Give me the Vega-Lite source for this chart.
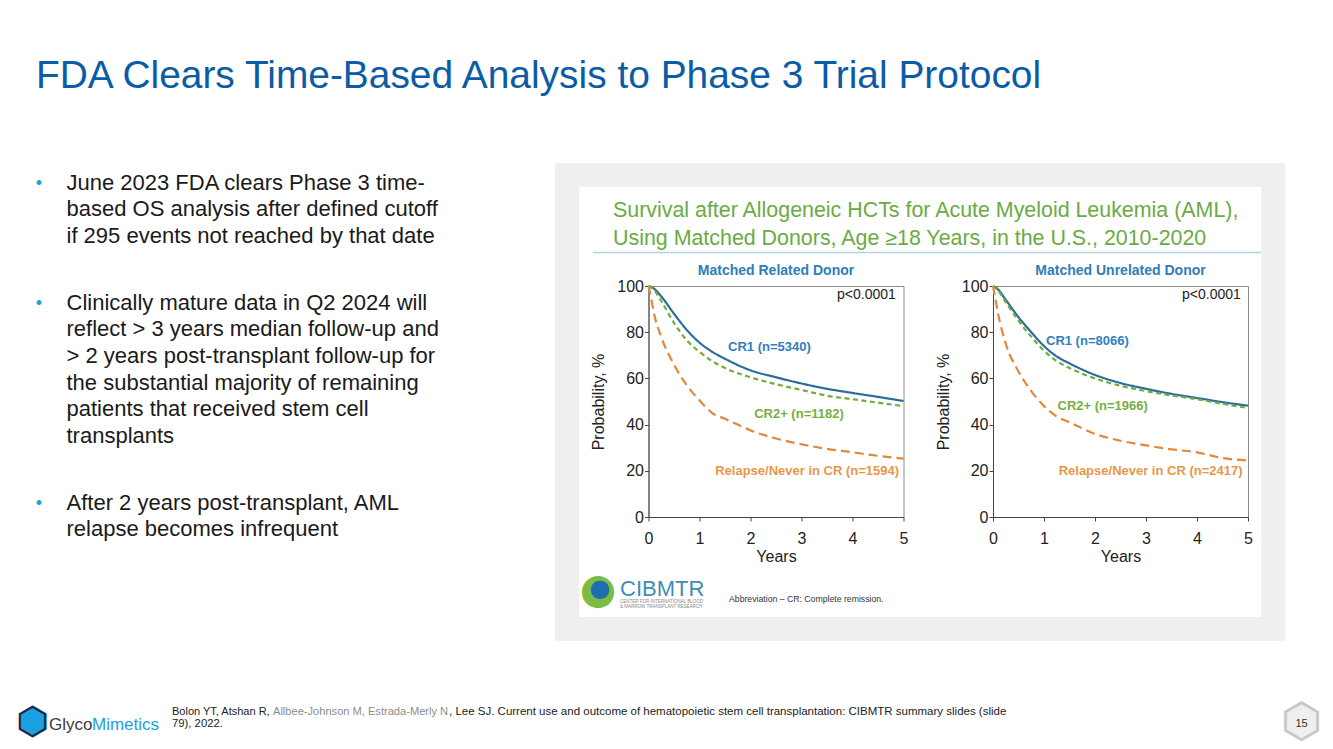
{
  "$schema": "https://vega.github.io/schema/vega-lite/v6.json",
  "background": "#ffffff",
  "padding": {"left": 0, "top": 57, "right": 5, "bottom": 5},
  "config": {
    "font": "Liberation Sans",
    "view": {"stroke": null},
    "axis": {"labelFont": "Liberation Sans", "titleFont": "Liberation Sans", "labelFontSize": 16, "titleFontSize": 16, "titleFontWeight": "normal", "labelColor": "#222222", "titleColor": "#222222", "domainColor": "#444444", "tickColor": "#444444", "tickSize": 4, "grid": false, "labelFlush": false, "labelOverlap": false}
  },
  "datasets": {
    "bullets": [
      {"line": 0, "first": true, "text": "June 2023 FDA clears Phase 3 time-"},
      {"line": 1, "first": false, "text": "based OS analysis after defined cutoff"},
      {"line": 2, "first": false, "text": "if 295 events not reached by that date"},
      {"line": 4.5, "first": true, "text": "Clinically mature data in Q2 2024 will"},
      {"line": 5.5, "first": false, "text": "reflect > 3 years median follow-up and"},
      {"line": 6.5, "first": false, "text": "> 2 years post-transplant follow-up for"},
      {"line": 7.5, "first": false, "text": "the substantial majority of remaining"},
      {"line": 8.5, "first": false, "text": "patients that received stem cell"},
      {"line": 9.5, "first": false, "text": "transplants"},
      {"line": 12, "first": true, "text": "After 2 years post-transplant, AML"},
      {"line": 13, "first": false, "text": "relapse becomes infrequent"}
    ],
    "km": [
      {"donor": "related", "group": "CR1", "t": 0, "p": 100},
      {"donor": "related", "group": "CR1", "t": 0.1, "p": 99},
      {"donor": "related", "group": "CR1", "t": 0.25, "p": 95.5},
      {"donor": "related", "group": "CR1", "t": 0.5, "p": 88},
      {"donor": "related", "group": "CR1", "t": 0.75, "p": 81},
      {"donor": "related", "group": "CR1", "t": 1, "p": 75.5},
      {"donor": "related", "group": "CR1", "t": 1.25, "p": 71.5},
      {"donor": "related", "group": "CR1", "t": 1.5, "p": 68.5},
      {"donor": "related", "group": "CR1", "t": 2, "p": 63.5},
      {"donor": "related", "group": "CR1", "t": 2.5, "p": 60.5},
      {"donor": "related", "group": "CR1", "t": 3, "p": 57.8},
      {"donor": "related", "group": "CR1", "t": 3.5, "p": 55.5},
      {"donor": "related", "group": "CR1", "t": 4, "p": 53.7},
      {"donor": "related", "group": "CR1", "t": 4.5, "p": 52},
      {"donor": "related", "group": "CR1", "t": 5, "p": 50.2},
      {"donor": "related", "group": "CR2+", "t": 0, "p": 100},
      {"donor": "related", "group": "CR2+", "t": 0.1, "p": 98.5},
      {"donor": "related", "group": "CR2+", "t": 0.25, "p": 93.5},
      {"donor": "related", "group": "CR2+", "t": 0.5, "p": 84},
      {"donor": "related", "group": "CR2+", "t": 0.75, "p": 76.5},
      {"donor": "related", "group": "CR2+", "t": 1, "p": 71.5},
      {"donor": "related", "group": "CR2+", "t": 1.25, "p": 67.5},
      {"donor": "related", "group": "CR2+", "t": 1.5, "p": 64.5},
      {"donor": "related", "group": "CR2+", "t": 2, "p": 60.5},
      {"donor": "related", "group": "CR2+", "t": 2.5, "p": 57.5},
      {"donor": "related", "group": "CR2+", "t": 3, "p": 55},
      {"donor": "related", "group": "CR2+", "t": 3.5, "p": 52.5},
      {"donor": "related", "group": "CR2+", "t": 4, "p": 51},
      {"donor": "related", "group": "CR2+", "t": 4.5, "p": 49.5},
      {"donor": "related", "group": "CR2+", "t": 5, "p": 48},
      {"donor": "related", "group": "Relapse/Never in CR", "t": 0, "p": 100},
      {"donor": "related", "group": "Relapse/Never in CR", "t": 0.05, "p": 95},
      {"donor": "related", "group": "Relapse/Never in CR", "t": 0.1, "p": 89},
      {"donor": "related", "group": "Relapse/Never in CR", "t": 0.25, "p": 78},
      {"donor": "related", "group": "Relapse/Never in CR", "t": 0.5, "p": 66},
      {"donor": "related", "group": "Relapse/Never in CR", "t": 0.75, "p": 57},
      {"donor": "related", "group": "Relapse/Never in CR", "t": 1, "p": 50.5},
      {"donor": "related", "group": "Relapse/Never in CR", "t": 1.25, "p": 45},
      {"donor": "related", "group": "Relapse/Never in CR", "t": 1.5, "p": 42.5},
      {"donor": "related", "group": "Relapse/Never in CR", "t": 1.75, "p": 40},
      {"donor": "related", "group": "Relapse/Never in CR", "t": 2, "p": 37.5},
      {"donor": "related", "group": "Relapse/Never in CR", "t": 2.5, "p": 34},
      {"donor": "related", "group": "Relapse/Never in CR", "t": 3, "p": 31.5},
      {"donor": "related", "group": "Relapse/Never in CR", "t": 3.5, "p": 29.5},
      {"donor": "related", "group": "Relapse/Never in CR", "t": 4, "p": 28},
      {"donor": "related", "group": "Relapse/Never in CR", "t": 4.5, "p": 26.5},
      {"donor": "related", "group": "Relapse/Never in CR", "t": 5, "p": 25.3},
      {"donor": "unrelated", "group": "CR1", "t": 0, "p": 100},
      {"donor": "unrelated", "group": "CR1", "t": 0.1, "p": 98.5},
      {"donor": "unrelated", "group": "CR1", "t": 0.25, "p": 94},
      {"donor": "unrelated", "group": "CR1", "t": 0.5, "p": 86.5},
      {"donor": "unrelated", "group": "CR1", "t": 0.75, "p": 80},
      {"donor": "unrelated", "group": "CR1", "t": 1, "p": 74},
      {"donor": "unrelated", "group": "CR1", "t": 1.25, "p": 69.5},
      {"donor": "unrelated", "group": "CR1", "t": 1.5, "p": 66.5},
      {"donor": "unrelated", "group": "CR1", "t": 2, "p": 61.5},
      {"donor": "unrelated", "group": "CR1", "t": 2.5, "p": 58},
      {"donor": "unrelated", "group": "CR1", "t": 3, "p": 55.5},
      {"donor": "unrelated", "group": "CR1", "t": 3.5, "p": 53.3},
      {"donor": "unrelated", "group": "CR1", "t": 4, "p": 51.5},
      {"donor": "unrelated", "group": "CR1", "t": 4.5, "p": 49.7},
      {"donor": "unrelated", "group": "CR1", "t": 5, "p": 48.2},
      {"donor": "unrelated", "group": "CR2+", "t": 0, "p": 100},
      {"donor": "unrelated", "group": "CR2+", "t": 0.1, "p": 98},
      {"donor": "unrelated", "group": "CR2+", "t": 0.25, "p": 93},
      {"donor": "unrelated", "group": "CR2+", "t": 0.5, "p": 85},
      {"donor": "unrelated", "group": "CR2+", "t": 0.75, "p": 78},
      {"donor": "unrelated", "group": "CR2+", "t": 1, "p": 72},
      {"donor": "unrelated", "group": "CR2+", "t": 1.25, "p": 67.5},
      {"donor": "unrelated", "group": "CR2+", "t": 1.5, "p": 64.5},
      {"donor": "unrelated", "group": "CR2+", "t": 2, "p": 60},
      {"donor": "unrelated", "group": "CR2+", "t": 2.5, "p": 56.8},
      {"donor": "unrelated", "group": "CR2+", "t": 3, "p": 54.5},
      {"donor": "unrelated", "group": "CR2+", "t": 3.5, "p": 52.6},
      {"donor": "unrelated", "group": "CR2+", "t": 4, "p": 51},
      {"donor": "unrelated", "group": "CR2+", "t": 4.5, "p": 49},
      {"donor": "unrelated", "group": "CR2+", "t": 5, "p": 47.2},
      {"donor": "unrelated", "group": "Relapse/Never in CR", "t": 0, "p": 100},
      {"donor": "unrelated", "group": "Relapse/Never in CR", "t": 0.05, "p": 94},
      {"donor": "unrelated", "group": "Relapse/Never in CR", "t": 0.1, "p": 88},
      {"donor": "unrelated", "group": "Relapse/Never in CR", "t": 0.25, "p": 75},
      {"donor": "unrelated", "group": "Relapse/Never in CR", "t": 0.5, "p": 63},
      {"donor": "unrelated", "group": "Relapse/Never in CR", "t": 0.75, "p": 54.5},
      {"donor": "unrelated", "group": "Relapse/Never in CR", "t": 1, "p": 48},
      {"donor": "unrelated", "group": "Relapse/Never in CR", "t": 1.25, "p": 43.5},
      {"donor": "unrelated", "group": "Relapse/Never in CR", "t": 1.5, "p": 41},
      {"donor": "unrelated", "group": "Relapse/Never in CR", "t": 2, "p": 36},
      {"donor": "unrelated", "group": "Relapse/Never in CR", "t": 2.5, "p": 33},
      {"donor": "unrelated", "group": "Relapse/Never in CR", "t": 3, "p": 31},
      {"donor": "unrelated", "group": "Relapse/Never in CR", "t": 3.5, "p": 29.3},
      {"donor": "unrelated", "group": "Relapse/Never in CR", "t": 4, "p": 28},
      {"donor": "unrelated", "group": "Relapse/Never in CR", "t": 4.5, "p": 25.5},
      {"donor": "unrelated", "group": "Relapse/Never in CR", "t": 5, "p": 24.5}
    ],
    "kmlabels": [
      {"donor": "related", "group": "CR1", "label": "CR1 (n=5340)", "t": 2.37, "p": 73.5},
      {"donor": "related", "group": "CR2+", "label": "CR2+ (n=1182)", "t": 2.95, "p": 44.5},
      {"donor": "related", "group": "Relapse/Never in CR", "label": "Relapse/Never in CR (n=1594)", "t": 3.11, "p": 19.7},
      {"donor": "unrelated", "group": "CR1", "label": "CR1 (n=8066)", "t": 1.85, "p": 76.3},
      {"donor": "unrelated", "group": "CR2+", "label": "CR2+ (n=1966)", "t": 2.15, "p": 48.2},
      {"donor": "unrelated", "group": "Relapse/Never in CR", "label": "Relapse/Never in CR (n=2417)", "t": 3.09, "p": 20.1}
    ],
    "pvals": [
      {"donor": "related", "label": "p<0.0001", "t": 4.85, "p": 96.3},
      {"donor": "unrelated", "label": "p<0.0001", "t": 4.86, "p": 96.1}
    ],
    "panels": [
      {"donor": "related", "label": "Matched Related Donor", "t": 2.5, "p": 106.3},
      {"donor": "unrelated", "label": "Matched Unrelated Donor", "t": 2.5, "p": 106.3}
    ]
  },
  "title": {"text": "FDA Clears Time-Based Analysis to Phase 3 Trial Protocol", "anchor": "start", "dx": 36, "fontSize": 38.9, "font": "Liberation Sans", "fontWeight": "normal", "color": "#0B5CA5", "offset": 66.5},
  "bounds": "flush",
  "spacing": 89.5,
  "hconcat": [
    {
      "width": 558.5,
      "height": 231,
      "view": {"stroke": null},
      "resolve": {"scale": {"y": "independent"}},
      "layer": [
        {
          "data": {"values": [{}]},
          "mark": {"type": "rect", "fillOpacity": 0, "stroke": "#efefef", "strokeWidth": 24},
          "encoding": {
            "x": {"datum": -1.588, "type": "quantitative", "scale": {"domain": [-12.706, -1.755], "nice": false, "zero": false}, "axis": null},
            "x2": {"datum": 12.261},
            "y": {"datum": 148.1, "type": "quantitative", "scale": {"domain": [0, 100], "nice": false}, "axis": null},
            "y2": {"datum": -48.5}
          }
        },
        {
          "data": {"values": [{}]},
          "mark": {"type": "rule", "stroke": "#B3D3E2", "strokeWidth": 1.5},
          "encoding": {
            "x": {"datum": -1.078, "type": "quantitative", "scale": {"domain": [-12.706, -1.755], "nice": false, "zero": false}, "axis": null},
            "x2": {"datum": 12.02},
            "y": {"datum": 114.5, "type": "quantitative", "scale": {"domain": [0, 100], "nice": false}, "axis": null}
          }
        },
        {
          "data": {"name": "bullets"},
          "transform": [{"filter": "datum.first"}],
          "mark": {"type": "text", "text": "•", "align": "center", "baseline": "alphabetic", "dx": -240.45, "dy": -1, "fontSize": 18, "color": "#1BA1E2"},
          "encoding": {"y": {"field": "line", "type": "quantitative", "scale": {"domain": [0, 17], "range": [-96.5, 356.89]}, "axis": null}}
        },
        {
          "data": {"name": "bullets"},
          "mark": {"type": "text", "align": "left", "baseline": "alphabetic", "dx": -212.75, "fontSize": 22, "color": "#1a1a1a"},
          "encoding": {
            "y": {"field": "line", "type": "quantitative", "scale": {"domain": [0, 17], "range": [-96.5, 356.89]}, "axis": null},
            "text": {"field": "text"}
          }
        },
        {
          "data": {"values": [{"t": "Survival after Allogeneic HCTs for Acute Myeloid Leukemia (AML),\nUsing Matched Donors, Age ≥18 Years, in the U.S., 2010-2020"}]},
          "mark": {"type": "text", "align": "left", "baseline": "alphabetic", "dx": 333.75, "dy": -185, "fontSize": 21.4, "lineBreak": "\n", "lineHeight": 28, "color": "#6BAA45"},
          "encoding": {"text": {"field": "t"}}
        },
        {
          "data": {"values": [{"t": "●"}]},
          "mark": {"type": "text", "align": "center", "baseline": "middle", "dx": 318.75, "dy": 188, "fontSize": 42, "font": "DejaVu Sans", "color": "#79BD45"},
          "encoding": {"text": {"field": "t"}}
        },
        {
          "data": {"values": [{"t": "●"}]},
          "mark": {"type": "text", "align": "center", "baseline": "middle", "dx": 320.75, "dy": 187, "fontSize": 24, "font": "DejaVu Sans", "color": "#1F6DAF"},
          "encoding": {"text": {"field": "t"}}
        },
        {
          "data": {"values": [{"t": "CIBMTR"}]},
          "mark": {"type": "text", "align": "left", "baseline": "alphabetic", "dx": 340.75, "dy": 194, "fontSize": 22, "color": "#3E8FB0"},
          "encoding": {"text": {"field": "t"}}
        },
        {
          "data": {"values": [{"t": "CENTER FOR INTERNATIONAL BLOOD\n& MARROW TRANSPLANT RESEARCH"}]},
          "mark": {"type": "text", "align": "left", "baseline": "alphabetic", "dx": 340.75, "dy": 201, "fontSize": 4.5, "lineBreak": "\n", "lineHeight": 5.5, "color": "#888888"},
          "encoding": {"text": {"field": "t"}}
        },
        {
          "data": {"values": [{"t": "Abbreviation – CR: Complete remission."}]},
          "mark": {"type": "text", "align": "left", "baseline": "alphabetic", "dx": 449.75, "dy": 200, "fontSize": 8.7, "color": "#333333"},
          "encoding": {"text": {"field": "t"}}
        },
        {
          "data": {"values": [{"t": "⬢"}]},
          "mark": {"type": "text", "align": "center", "baseline": "middle", "dx": -246.75, "dy": 321, "fontSize": 38, "font": "DejaVu Sans", "color": "#1BA1E2"},
          "encoding": {"text": {"field": "t"}}
        },
        {
          "data": {"values": [{"t": "⬡"}]},
          "mark": {"type": "text", "align": "center", "baseline": "middle", "dx": -246.75, "dy": 321, "fontSize": 38, "font": "DejaVu Sans", "color": "#1C2A45"},
          "encoding": {"text": {"field": "t"}}
        },
        {
          "data": {"values": [{"t": "Glyco"}]},
          "mark": {"type": "text", "align": "left", "baseline": "alphabetic", "dx": -230.25, "dy": 328, "fontSize": 17, "color": "#3c3c3c"},
          "encoding": {"text": {"field": "t"}}
        },
        {
          "data": {"values": [{"t": "Mimetics"}]},
          "mark": {"type": "text", "align": "left", "baseline": "alphabetic", "dx": -187.25, "dy": 328, "fontSize": 17, "color": "#1BA1E2"},
          "encoding": {"text": {"field": "t"}}
        },
        {
          "data": {"values": [{"t": "Bolon YT, Atshan R,"}]},
          "mark": {"type": "text", "align": "left", "baseline": "alphabetic", "dx": -107.25, "dy": 313.3, "fontSize": 11, "color": "#222222"},
          "encoding": {"text": {"field": "t"}}
        },
        {
          "data": {"values": [{"t": "Allbee-Johnson M, Estrada-Merly N"}]},
          "mark": {"type": "text", "align": "left", "baseline": "alphabetic", "dx": -6.25, "dy": 313.3, "fontSize": 11.1, "color": "#8c8c8c"},
          "encoding": {"text": {"field": "t"}}
        },
        {
          "data": {"values": [{"t": ", Lee SJ. Current use and outcome of hematopoietic stem cell transplantation: CIBMTR summary slides (slide"}]},
          "mark": {"type": "text", "align": "left", "baseline": "alphabetic", "dx": 169.75, "dy": 313.3, "fontSize": 11.5, "color": "#222222"},
          "encoding": {"text": {"field": "t"}}
        },
        {
          "data": {"values": [{"t": "79), 2022."}]},
          "mark": {"type": "text", "align": "left", "baseline": "alphabetic", "dx": -107.25, "dy": 325.5, "fontSize": 11.3, "color": "#222222"},
          "encoding": {"text": {"field": "t"}}
        },
        {
          "data": {"values": [{"t": "⬢"}]},
          "mark": {"type": "text", "align": "center", "baseline": "middle", "dx": 1022.45, "dy": 321.5, "fontSize": 48, "font": "DejaVu Sans", "color": "#efefef"},
          "encoding": {"text": {"field": "t"}}
        },
        {
          "data": {"values": [{"t": "⬡"}]},
          "mark": {"type": "text", "align": "center", "baseline": "middle", "dx": 1022.45, "dy": 321.5, "fontSize": 48, "font": "DejaVu Sans", "color": "#c8c8c8"},
          "encoding": {"text": {"field": "t"}}
        },
        {
          "data": {"values": [{"t": "15"}]},
          "mark": {"type": "text", "align": "center", "baseline": "middle", "dx": 1022.25, "dy": 322.5, "fontSize": 11, "color": "#333333"},
          "encoding": {"text": {"field": "t"}}
        }
      ]
    },
    {
      "width": 255,
      "height": 231,
      "view": {"stroke": "#8a8a8a", "strokeWidth": 1},
      "resolve": {"scale": {"color": "independent"}},
      "layer": [
        {
          "data": {"name": "km"},
          "transform": [{"filter": "datum.donor == 'related'"}],
          "mark": {"type": "line", "interpolate": "monotone", "strokeWidth": 2.2},
          "encoding": {
            "x": {"field": "t", "type": "quantitative", "scale": {"domain": [0, 5], "nice": false}, "axis": {"title": "Years", "values": [0, 0.5, 1, 1.5, 2, 2.5, 3, 3.5, 4, 4.5, 5], "labelExpr": "datum.value % 1 === 0 ? format(datum.value, 'd') : ''", "labelPadding": 9, "titlePadding": 2}},
            "y": {"field": "p", "type": "quantitative", "scale": {"domain": [0, 100], "nice": false}, "axis": {"title": "Probability, %", "values": [0, 10, 20, 30, 40, 50, 60, 70, 80, 90, 100], "labelExpr": "datum.value % 20 === 0 ? format(datum.value, 'd') : ''", "labelPadding": 1, "titlePadding": 10}},
            "color": {"field": "group", "type": "nominal", "scale": {"domain": ["CR1", "CR2+", "Relapse/Never in CR"], "range": ["#2B6C9C", "#72AC3E", "#E0893A"]}, "legend": null},
            "strokeDash": {"field": "group", "type": "nominal", "scale": {"domain": ["CR1", "CR2+", "Relapse/Never in CR"], "range": [[1, 0], [5, 3.5], [9, 5]]}, "legend": null}
          }
        },
        {
          "data": {"name": "kmlabels"},
          "transform": [{"filter": "datum.donor == 'related'"}],
          "mark": {"type": "text", "fontWeight": "bold", "fontSize": 13, "align": "center", "baseline": "middle"},
          "encoding": {
            "x": {"field": "t", "type": "quantitative"},
            "y": {"field": "p", "type": "quantitative"},
            "text": {"field": "label"},
            "color": {"field": "group", "type": "nominal", "scale": {"domain": ["CR1", "CR2+", "Relapse/Never in CR"], "range": ["#2F80BE", "#76AF40", "#E8964A"]}, "legend": null}
          }
        },
        {
          "data": {"name": "pvals"},
          "transform": [{"filter": "datum.donor == 'related'"}],
          "mark": {"type": "text", "fontSize": 14, "align": "right", "baseline": "middle", "color": "#222222"},
          "encoding": {
            "x": {"field": "t", "type": "quantitative"},
            "y": {"field": "p", "type": "quantitative"},
            "text": {"field": "label"}
          }
        },
        {
          "data": {"name": "panels"},
          "transform": [{"filter": "datum.donor == 'related'"}],
          "mark": {"type": "text", "fontSize": 14, "fontWeight": "bold", "align": "center", "baseline": "middle", "color": "#2F7DBA"},
          "encoding": {
            "x": {"field": "t", "type": "quantitative"},
            "y": {"field": "p", "type": "quantitative"},
            "text": {"field": "label"}
          }
        }
      ]
    },
    {
      "width": 255,
      "height": 231,
      "view": {"stroke": "#8a8a8a", "strokeWidth": 1},
      "resolve": {"scale": {"color": "independent"}},
      "layer": [
        {
          "data": {"name": "km"},
          "transform": [{"filter": "datum.donor == 'unrelated'"}],
          "mark": {"type": "line", "interpolate": "monotone", "strokeWidth": 2.2},
          "encoding": {
            "x": {"field": "t", "type": "quantitative", "scale": {"domain": [0, 5], "nice": false}, "axis": {"title": "Years", "values": [0, 0.5, 1, 1.5, 2, 2.5, 3, 3.5, 4, 4.5, 5], "labelExpr": "datum.value % 1 === 0 ? format(datum.value, 'd') : ''", "labelPadding": 9, "titlePadding": 2}},
            "y": {"field": "p", "type": "quantitative", "scale": {"domain": [0, 100], "nice": false}, "axis": {"title": "Probability, %", "values": [0, 10, 20, 30, 40, 50, 60, 70, 80, 90, 100], "labelExpr": "datum.value % 20 === 0 ? format(datum.value, 'd') : ''", "labelPadding": 1, "titlePadding": 10}},
            "color": {"field": "group", "type": "nominal", "scale": {"domain": ["CR1", "CR2+", "Relapse/Never in CR"], "range": ["#2B6C9C", "#72AC3E", "#E0893A"]}, "legend": null},
            "strokeDash": {"field": "group", "type": "nominal", "scale": {"domain": ["CR1", "CR2+", "Relapse/Never in CR"], "range": [[1, 0], [5, 3.5], [9, 5]]}, "legend": null}
          }
        },
        {
          "data": {"name": "kmlabels"},
          "transform": [{"filter": "datum.donor == 'unrelated'"}],
          "mark": {"type": "text", "fontWeight": "bold", "fontSize": 13, "align": "center", "baseline": "middle"},
          "encoding": {
            "x": {"field": "t", "type": "quantitative"},
            "y": {"field": "p", "type": "quantitative"},
            "text": {"field": "label"},
            "color": {"field": "group", "type": "nominal", "scale": {"domain": ["CR1", "CR2+", "Relapse/Never in CR"], "range": ["#2F80BE", "#76AF40", "#E8964A"]}, "legend": null}
          }
        },
        {
          "data": {"name": "pvals"},
          "transform": [{"filter": "datum.donor == 'unrelated'"}],
          "mark": {"type": "text", "fontSize": 14, "align": "right", "baseline": "middle", "color": "#222222"},
          "encoding": {
            "x": {"field": "t", "type": "quantitative"},
            "y": {"field": "p", "type": "quantitative"},
            "text": {"field": "label"}
          }
        },
        {
          "data": {"name": "panels"},
          "transform": [{"filter": "datum.donor == 'unrelated'"}],
          "mark": {"type": "text", "fontSize": 14, "fontWeight": "bold", "align": "center", "baseline": "middle", "color": "#2F7DBA"},
          "encoding": {
            "x": {"field": "t", "type": "quantitative"},
            "y": {"field": "p", "type": "quantitative"},
            "text": {"field": "label"}
          }
        }
      ]
    }
  ]
}
